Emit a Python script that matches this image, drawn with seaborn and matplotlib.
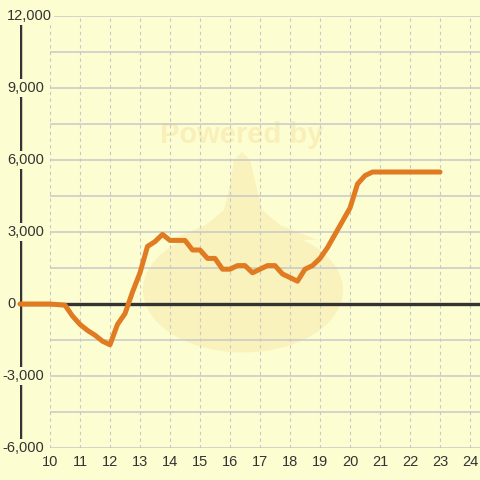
"""Cumulative value over the day, drawn as a single orange line."""

import matplotlib
matplotlib.use("Agg")

import matplotlib.pyplot as plt
from matplotlib.patches import Ellipse, Polygon
import pandas as pd
import seaborn as sns

# Data
hours = [9, 10, 10.5, 10.75, 11, 11.25, 11.5, 11.75, 12, 12.25, 12.5, 12.75,
         13, 13.25, 13.5, 13.75, 14, 14.5, 14.75, 15, 15.25, 15.5, 15.75,
         16, 16.25, 16.5, 16.75, 17, 17.25, 17.5, 17.75, 18, 18.25, 18.5,
         18.75, 19, 19.25, 19.5, 19.75, 20, 20.25, 20.5, 20.75, 23]
values = [0, 0, -50, -500, -850, -1100, -1300, -1550, -1700, -850, -400, 500,
          1300, 2400, 2600, 2900, 2650, 2650, 2250, 2250, 1900, 1900, 1450,
          1450, 1600, 1600, 1300, 1450, 1600, 1600, 1250, 1100, 950, 1450,
          1600, 1900, 2350, 2900, 3450, 4000, 5000, 5350, 5500, 5500]
x_ticks = list(range(10, 25))
y_grid = list(range(-6000, 12001, 1500))
y_labels = [-6000, -3000, 0, 3000, 6000, 9000, 12000]

BG = "#FDFDD2"
LINE = "#E07B22"
GRID = "#C8C8C8"
DARK = "#333333"
WM = "#F9F2BC"

sns.set_style("white")
plt.rcParams["font.family"] = ["Liberation Sans", "DejaVu Sans"]

df = pd.DataFrame({"hour": hours, "value": values})

fig = plt.figure(figsize=(4.8, 4.8), dpi=100, facecolor=BG)
ax = fig.add_axes([20 / 480, 32 / 480, 460 / 480, 432 / 480])
ax.set_facecolor(BG)
ax.set_xlim(9, 9 + 460 / 30)
ax.set_ylim(-6000, 12000)


def px(x, y):
    # figure pixel (from top-left) -> axes fraction, used for the watermark
    return ((x - 20) / 460, (448 - y) / 432)


# faint watermark (logo drop + text)
ax.add_patch(Ellipse(px(243, 290), 200 / 460, 125 / 432,
                     transform=ax.transAxes, color=WM, lw=0, zorder=0))
neck = [(242, 152), (250, 160), (256, 185), (262, 210), (280, 225),
        (317, 240), (169, 240), (206, 225), (224, 210), (230, 185),
        (234, 160)]
ax.add_patch(Polygon([px(x, y) for x, y in neck], transform=ax.transAxes,
                     color=WM, lw=0, zorder=0))
ax.text(*px(242, 135), "Powered by", transform=ax.transAxes, ha="center",
        va="center", fontsize=21, fontweight="bold", color="#F8F0B8",
        zorder=0)

# grid
ax.hlines(y_grid, 10, ax.get_xlim()[1], color=GRID, lw=1.1, zorder=1)
ax.vlines(x_ticks, -6000, 12000, color=GRID, lw=0.8, linestyles=(0, (3, 3)),
          zorder=1)

# zero line and y axis
ax.axhline(0, xmin=0, xmax=1, color=DARK, lw=2.4, zorder=2)
ax.vlines([9], -6000, 12000, color=DARK, lw=3.2, zorder=2)

sns.lineplot(data=df, x="hour", y="value", color=LINE, lw=3.6, ax=ax,
             zorder=3, clip_on=False)

for v in y_labels:
    lab = f"{v:,}"
    x_px = 2 if v < 0 else 7
    ax.text((x_px - 20) / 460, v, lab, transform=ax.get_yaxis_transform(),
            ha="left", va="center", fontsize=10.5, color=DARK, zorder=5,
            bbox=dict(facecolor=BG, edgecolor="none", pad=1.5))

for h in x_ticks:
    ax.text(h, -14 / 432, str(h), transform=ax.get_xaxis_transform(),
            ha="center", va="center", fontsize=10.5, color=DARK)

ax.set_xticks([])
ax.set_yticks([])
ax.set_xlabel("")
ax.set_ylabel("")
for s in ax.spines.values():
    s.set_visible(False)

fig.savefig("out.png", dpi=100, facecolor=BG)
plt.close(fig)
